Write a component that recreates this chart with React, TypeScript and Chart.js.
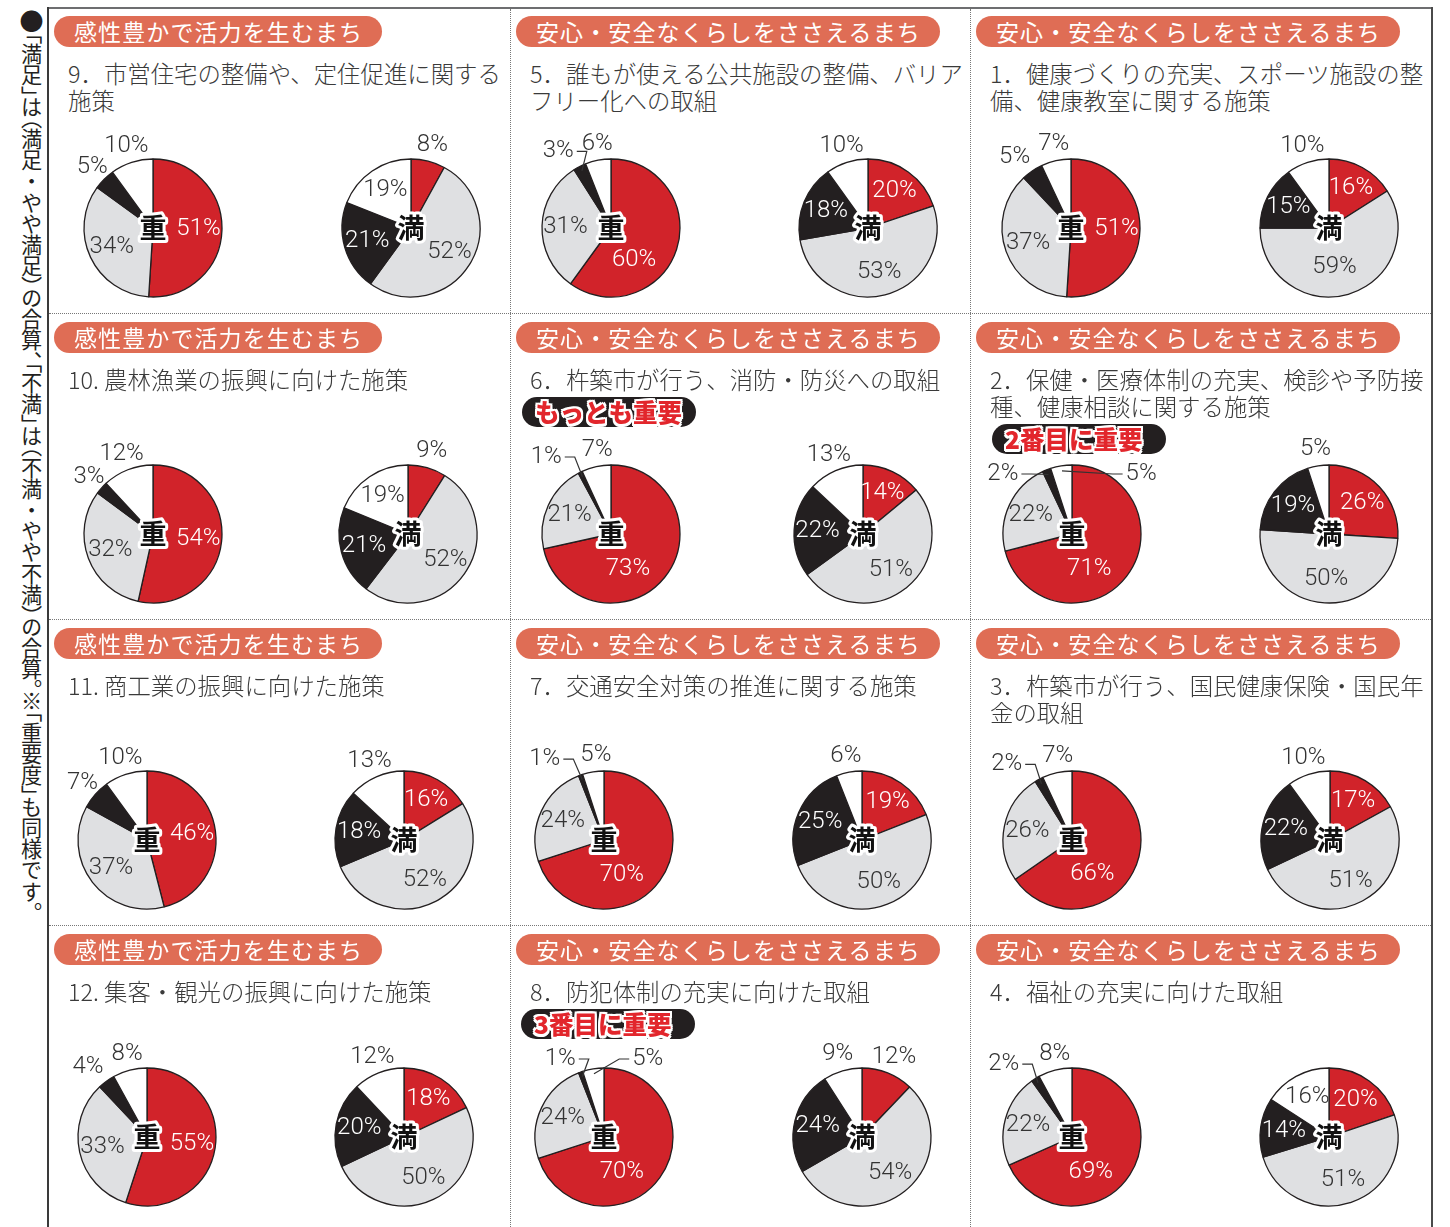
import React, { useEffect, useRef } from "react";
import { Chart, registerables } from "chart.js";

Chart.register(...registerables);

// ---------------- data ----------------
const SERIES_LABELS = ["重要・満足", "どちらともいえない", "重要でない・不満", "無回答"];
const CENTER_LABELS = ["重", "満"];

const CATEGORY_A = "感性豊かで活力を生むまち";
const CATEGORY_B = "安心・安全なくらしをささえるまち";

const PANEL_CATEGORY = [
  CATEGORY_A, CATEGORY_B, CATEGORY_B,
  CATEGORY_A, CATEGORY_B, CATEGORY_B,
  CATEGORY_A, CATEGORY_B, CATEGORY_B,
  CATEGORY_A, CATEGORY_B, CATEGORY_B,
];

const PANEL_TITLE = [
  "9．市営住宅の整備や、定住促進に関する\n施策",
  "5．誰もが使える公共施設の整備、バリア\nフリー化への取組",
  "1．健康づくりの充実、スポーツ施設の整\n備、健康教室に関する施策",
  "10. 農林漁業の振興に向けた施策",
  "6．杵築市が行う、消防・防災への取組",
  "2．保健・医療体制の充実、検診や予防接\n種、健康相談に関する施策",
  "11. 商工業の振興に向けた施策",
  "7．交通安全対策の推進に関する施策",
  "3．杵築市が行う、国民健康保険・国民年\n金の取組",
  "12. 集客・観光の振興に向けた施策",
  "8．防犯体制の充実に向けた取組",
  "4．福祉の充実に向けた取組",
];

const PANEL_BADGE = ["", "", "", "", "もっとも重要", "2番目に重要", "", "", "", "", "3番目に重要", ""];

// order of slices: [重要/満足, どちらともいえない, 重要でない/不満, 無回答]
const IMPORTANCE = [
  [51, 34, 5, 10],
  [60, 31, 3, 6],
  [51, 37, 5, 7],
  [54, 32, 3, 12],
  [73, 21, 1, 7],
  [71, 22, 2, 5],
  [46, 37, 7, 10],
  [70, 24, 1, 5],
  [66, 26, 2, 7],
  [55, 33, 4, 8],
  [70, 24, 1, 5],
  [69, 22, 2, 8],
];

const SATISFACTION = [
  [8, 52, 21, 19],
  [20, 53, 18, 10],
  [16, 59, 15, 10],
  [9, 52, 21, 19],
  [14, 51, 22, 13],
  [26, 50, 19, 5],
  [16, 52, 18, 13],
  [19, 50, 25, 6],
  [17, 51, 22, 10],
  [18, 50, 20, 12],
  [12, 54, 24, 9],
  [20, 51, 14, 16],
];

const NOTE_TEXT = "「満足」は（満足・やや満足）の合算、「不満」は（不満・やや不満）の合算。※「重要度」も同様です。";

// ---------------- layout / style ----------------
const SLICE_COLORS = ["#d1232a", "#dfe0e2", "#231f20", "#ffffff"];
const SLICE_TEXT = ["#ffffff", "#333333", "#ffffff", "#333333"];
const INSIDE_MIN = 14;

const COL_X = [48, 510, 970];
const ROW_Y = [8, 314, 620, 926];
const PIE_CY = [228, 534, 840, 1137];
const PIE_CX = [
  [153, 411], [611, 868], [1071, 1329],
  [153, 408], [611, 863], [1072, 1329],
  [147, 404], [604, 862], [1072, 1330],
  [147, 404], [604, 862], [1072, 1329],
];
const BADGE_DX = [12, 12, 12, 12, 12, 22, 12, 12, 12, 12, 11, 12];
const BADGE_W = 174;
const BADGE_H = 30;
const PIE_R = 69;
const CW = 260;
const CH = 220;

const JP = '"Noto Sans CJK JP", "Noto Sans", sans-serif';
const NUM_FONT = '300 24px Roboto, "DejaVu Sans", sans-serif';

type Obstacle = { x1: number; x2: number; bottom: number } | null;

function makeLabelPlugin(centerText: string, obstacle: Obstacle) {
  return {
    id: "pieLabels",
    afterDatasetsDraw(chart: any) {
      const ctx = chart.ctx as CanvasRenderingContext2D;
      const meta = chart.getDatasetMeta(0);
      const vals = chart.data.datasets[0].data as number[];
      const total = vals.reduce((s, v) => s + v, 0);
      ctx.save();
      ctx.font = NUM_FONT;
      ctx.textAlign = "center";
      ctx.textBaseline = "middle";
      const outside: any[] = [];
      let pcx = 0, pcy = 0;
      meta.data.forEach((el: any, i: number) => {
        const p = el.getProps(["x", "y", "startAngle", "endAngle", "outerRadius"], true);
        pcx = p.x; pcy = p.y;
        const mid = (p.startAngle + p.endAngle) / 2;
        const text = vals[i] + "%";
        const w = ctx.measureText(text).width;
        if (vals[i] >= INSIDE_MIN) {
          let ang = mid;
          let rr = p.outerRadius * 0.66;
          if (vals[i] / total > 0.58) {
            // very large slice: label sits toward the lower part
            ang = (mid + Math.PI / 2) / 2;
            rr = p.outerRadius * 0.57;
          }
          ctx.fillStyle = SLICE_TEXT[i];
          ctx.fillText(text, p.x + Math.cos(ang) * rr, p.y + Math.sin(ang) * rr);
        } else {
          const rr = p.outerRadius + 17;
          const nx = p.x + Math.cos(mid) * rr;
          const ny = p.y + Math.sin(mid) * rr;
          outside.push({ text, w, v: vals[i], x: nx, y: ny, nx, ny, mid, cx: p.x, cy: p.y, r: p.outerRadius, pushed: false });
        }
      });
      // keep clear of a badge above the pie
      if (obstacle) {
        outside.forEach((o) => {
          if (o.x + o.w / 2 > obstacle.x1 && o.x - o.w / 2 < obstacle.x2 && o.y - 12 < obstacle.bottom + 6) {
            o.y = obstacle.bottom + 20;
            const dy = o.y - o.cy;
            const R = o.r + 17;
            const base = Math.sqrt(Math.max(R * R - dy * dy, 0));
            const s = o.nx < o.cx ? -1 : 1;
            o.x = o.cx + s * (base + o.w / 2 - 8);
            o.pushed = true;
          }
        });
      }
      outside.sort((a, b) => a.x - b.x);
      for (let k = 1; k < outside.length; k++) {
        const a = outside[k - 1];
        const b = outside[k];
        if (Math.abs(a.y - b.y) < 20) {
          const gap = Math.min(a.v, b.v) <= 2 ? 20 : 8;
          const need = (a.w + b.w) / 2 + gap - (b.x - a.x);
          if (need > 0) {
            if (a.pushed && b.pushed) {
              const m = a.mid > b.mid ? a : b;
              m.x = m.cx + (m.cx - m.x);
            } else {
              a.x -= need * 0.85;
              b.x += need * 0.15;
            }
          }
        }
      }
      outside.forEach((o) => {
        ctx.fillStyle = "#333333";
        ctx.fillText(o.text, o.x, o.y);
        const shift = o.x - o.nx;
        if (Math.abs(shift) > 12 || o.pushed) {
          const ex = o.cx + Math.cos(o.mid) * (o.r - 5);
          const ey = o.cy + Math.sin(o.mid) * (o.r - 5);
          const dir = ex < o.x ? -1 : 1;
          const sx = o.x + dir * (o.w / 2 + 3);
          ctx.beginPath();
          ctx.strokeStyle = "#333333";
          ctx.lineWidth = 1.2;
          ctx.moveTo(sx, o.y);
          ctx.lineTo(sx + dir * 10, o.y);
          ctx.lineTo(ex, ey);
          ctx.stroke();
        }
      });
      // centre label
      ctx.font = `bold 27px ${JP}`;
      ctx.lineJoin = "round";
      ctx.strokeStyle = "#ffffff";
      ctx.lineWidth = 6;
      ctx.strokeText(centerText, pcx, pcy);
      ctx.fillStyle = "#111111";
      ctx.fillText(centerText, pcx, pcy);
      ctx.restore();
    },
  };
}

function Pie({ values, center, cx, cy, obstacle }: { values: number[]; center: string; cx: number; cy: number; obstacle: Obstacle }) {
  const ref = useRef<HTMLCanvasElement>(null);
  useEffect(() => {
    const local: Obstacle = obstacle
      ? { x1: obstacle.x1 - (cx - CW / 2), x2: obstacle.x2 - (cx - CW / 2), bottom: obstacle.bottom - (cy - CH / 2) }
      : null;
    const chart = new Chart(ref.current as HTMLCanvasElement, {
      type: "pie",
      data: {
        labels: SERIES_LABELS,
        datasets: [
          {
            data: values,
            backgroundColor: SLICE_COLORS,
            borderColor: "#231f20",
            borderWidth: 1.3,
            radius: PIE_R,
          } as any,
        ],
      },
      options: {
        responsive: false,
        animation: false,
        events: [],
        radius: PIE_R,
        layout: { padding: 0 },
        plugins: { legend: { display: false }, tooltip: { enabled: false } },
      } as any,
      plugins: [makeLabelPlugin(center, local)],
    });
    return () => chart.destroy();
  }, [values, center, cx, cy, obstacle]);
  return (
    <canvas
      ref={ref}
      width={CW}
      height={CH}
      style={{ position: "absolute", left: cx - CW / 2, top: cy - CH / 2, width: CW, height: CH }}
    />
  );
}

const outline =
  "2px 0 0 #fff, -2px 0 0 #fff, 0 2px 0 #fff, 0 -2px 0 #fff, 2px 2px 0 #fff, -2px -2px 0 #fff, 2px -2px 0 #fff, -2px 2px 0 #fff, 1px 3px 0 #fff, -1px 3px 0 #fff";

function Panel({ i }: { i: number }) {
  const row = Math.floor(i / 3);
  const col = i % 3;
  const x0 = COL_X[col];
  const y0 = ROW_Y[row];
  const titleLines = PANEL_TITLE[i].split("\n").length;
  const badgeLeft = x0 + BADGE_DX[i];
  const badgeTop = y0 + 52 + titleLines * 27 + 4;
  const obstacle: Obstacle = PANEL_BADGE[i]
    ? { x1: badgeLeft, x2: badgeLeft + BADGE_W, bottom: badgeTop + BADGE_H }
    : null;
  return (
    <>
      <div
        style={{
          position: "absolute",
          left: x0 + 6,
          top: y0 + 8,
          height: 31,
          lineHeight: "31px",
          padding: "0 19px 0 20px",
          borderRadius: 16,
          background: "#df6d55",
          color: "#ffffff",
          fontSize: 23,
          letterSpacing: 1.1,
          fontFamily: JP,
          whiteSpace: "nowrap",
        }}
      >
        {PANEL_CATEGORY[i]}
      </div>
      <div
        style={{
          position: "absolute",
          left: x0 + 20,
          top: y0 + 52,
          fontSize: 23.4,
          lineHeight: "27px",
          color: "#3a3a3a",
          fontFamily: JP,
          fontWeight: 300,
          whiteSpace: "pre",
        }}
      >
        {PANEL_TITLE[i]}
      </div>
      {PANEL_BADGE[i] && (
        <div
          style={{
            position: "absolute",
            left: badgeLeft,
            top: badgeTop,
            width: BADGE_W,
            height: BADGE_H,
            borderRadius: 15,
            background: "#231f20",
            boxSizing: "border-box",
            paddingLeft: 13,
            lineHeight: "30px",
            fontSize: 24.5,
            fontWeight: 900,
            color: "#e2262c",
            fontFamily: JP,
            whiteSpace: "nowrap",
            textShadow: outline,
          }}
        >
          {PANEL_BADGE[i]}
        </div>
      )}
      <Pie values={IMPORTANCE[i]} center={CENTER_LABELS[0]} cx={PIE_CX[i][0]} cy={PIE_CY[row]} obstacle={obstacle} />
      <Pie values={SATISFACTION[i]} center={CENTER_LABELS[1]} cx={PIE_CX[i][1]} cy={PIE_CY[row]} obstacle={obstacle} />
    </>
  );
}

export default function App() {
  const panels = Array.from({ length: 12 }, (_, i) => i);
  const noteParts = NOTE_TEXT.split("・");
  return (
    <div
      style={{
        position: "absolute",
        left: 0,
        top: 0,
        width: 1450,
        height: 1227,
        background: "#ffffff",
        overflow: "hidden",
        fontFamily: JP,
      }}
    >
      {/* vertical note */}
      <div
        style={{
          position: "absolute",
          left: 19,
          top: 9,
          writingMode: "vertical-rl",
          fontSize: 21.2,
          lineHeight: "24px",
          color: "#231f20",
          fontFamily: JP,
          fontFeatureSettings: '"vhal" 1',
          whiteSpace: "nowrap",
        }}
      >
        <span style={{ fontSize: 24 }}>●</span>
        {noteParts.map((p, k) => (
          <React.Fragment key={k}>
            {k > 0 && <span style={{ fontFeatureSettings: "normal" }}>・</span>}
            {p}
          </React.Fragment>
        ))}
      </div>

      {/* frame */}
      <div style={{ position: "absolute", left: 47, top: 7, width: 1386, height: 2, background: "#6d6e70" }} />
      <div style={{ position: "absolute", left: 47, top: 7, width: 2, height: 1220, background: "#3a3a3a" }} />
      <div style={{ position: "absolute", left: 1431, top: 7, width: 2, height: 1220, background: "#4a4a4a" }} />
      {[510, 970].map((x) => (
        <div key={x} style={{ position: "absolute", left: x, top: 9, width: 0, height: 1218, borderLeft: "1px dotted #777" }} />
      ))}
      {[313, 619, 925].map((y) => (
        <div key={y} style={{ position: "absolute", left: 49, top: y, width: 1382, height: 0, borderTop: "1px dotted #777" }} />
      ))}

      {panels.map((i) => (
        <Panel key={i} i={i} />
      ))}
    </div>
  );
}
